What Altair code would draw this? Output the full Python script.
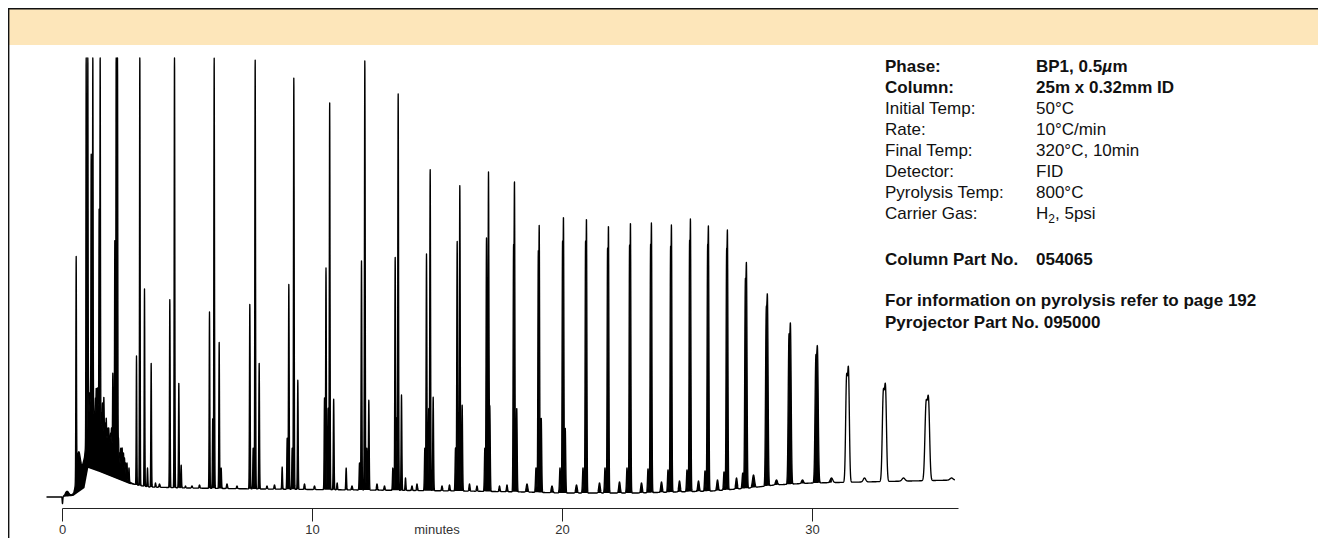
import altair as alt
import numpy as np
import pandas as pd

alt.data_transformers.disable_max_rows()

# ---------------- data ----------------
# x axis ticks (minutes)
tick_values = [0, 10, 20, 30]
axis_title = "minutes"

# baseline level of the detector signal (signal units above the axis line)
base_time = [-0.62, -0.05, 0.45, 0.90, 1.05, 1.50, 2.00, 2.30, 2.70, 3.50, 5.00, 8.00,
             12.0, 16.0, 18.5, 20.0, 23.0, 26.0, 27.5, 28.5, 30.0, 32.0, 35.8]
base_level = [11, 11, 12, 20, 40, 36, 31, 28, 24, 21, 20, 19,
              18, 17, 16, 15, 15, 17, 20, 23, 25, 26, 28]

# (retention time min, apex height, sigma min)
early_peaks = [
    (0.567, 252, 0.012), (0.967, 460, 0.010), (1.033, 460, 0.010), (1.100, 115, 0.010),
    (1.167, 355, 0.010), (1.233, 460, 0.011), (1.300, 95, 0.010), (1.340, 110, 0.010),
    (1.420, 120, 0.010), (1.485, 300, 0.010), (1.527, 460, 0.011), (1.673, 111, 0.011),
    (1.820, 75, 0.011), (1.927, 70, 0.011), (2.033, 135, 0.011), (2.113, 268, 0.011),
    (2.167, 460, 0.011), (2.220, 460, 0.011), (2.300, 55, 0.011), (2.407, 60, 0.012),
    (2.540, 45, 0.012), (2.767, 25, 0.015),
]
cluster_minor = [
    (1.06, 130, 0.010), (1.13, 110, 0.010), (1.20, 125, 0.010), (1.26, 115, 0.010),
    (1.37, 120, 0.010), (1.40, 100, 0.010), (1.45, 105, 0.010), (1.58, 95, 0.010),
    (1.62, 105, 0.010), (1.69, 90, 0.011), (1.72, 85, 0.011), (1.77, 90, 0.011),
    (1.84, 80, 0.011), (1.87, 80, 0.011), (1.95, 75, 0.011), (1.98, 80, 0.011),
    (2.02, 80, 0.011), (2.08, 85, 0.011), (2.26, 70, 0.011), (2.35, 60, 0.011),
    (2.38, 55, 0.011), (2.46, 55, 0.012), (2.50, 50, 0.012), (2.60, 45, 0.012),
    (2.68, 40, 0.012),
]
# unresolved hump under the early cluster: (time, amplitude, sigma)
cluster_humps = [(1.20, 50, 0.30), (1.90, 30, 0.35)]
mid_peaks = [
    (2.980, 152, 0.012), (3.113, 460, 0.012), (3.300, 219, 0.012), (3.420, 40, 0.013),
    (3.567, 145, 0.013), (3.740, 25, 0.015),
    (4.313, 209, 0.013), (4.500, 460, 0.013), (4.673, 125, 0.013), (4.767, 43, 0.013),
    (4.940, 22, 0.015),
    (5.900, 196, 0.013), (6.030, 90, 0.013), (6.087, 451, 0.013), (6.287, 166, 0.013),
    (6.367, 40, 0.014),
    (7.513, 204, 0.014), (7.647, 60, 0.014), (7.727, 449, 0.014), (7.887, 145, 0.014),
    (8.807, 41, 0.014),
    (9.007, 70, 0.014), (9.073, 224, 0.014), (9.207, 60, 0.014), (9.273, 431, 0.014),
    (9.433, 128, 0.014),
    (10.500, 110, 0.014), (10.560, 240, 0.014), (10.647, 100, 0.014), (10.707, 406, 0.014),
    (10.867, 109, 0.015), (11.007, 25, 0.015), (11.367, 40, 0.015),
    (11.900, 45, 0.015), (11.980, 247, 0.015), (12.113, 448, 0.015), (12.193, 60, 0.015),
    (12.273, 108, 0.015),
    (13.233, 40, 0.015), (13.327, 251, 0.015), (13.380, 90, 0.015), (13.447, 415, 0.015),
    (13.580, 113, 0.015), (13.740, 30, 0.016),
    (14.513, 60, 0.016), (14.580, 254, 0.016), (14.670, 100, 0.016), (14.727, 339, 0.016),
    (14.847, 111, 0.016),
    (15.740, 60, 0.016), (15.807, 267, 0.016), (15.913, 323, 0.016), (16.007, 103, 0.016),
    (16.913, 60, 0.017), (16.980, 270, 0.017), (17.060, 336, 0.017), (17.113, 102, 0.017),
    (18.060, 260, 0.016), (18.100, 326, 0.016), (18.190, 100, 0.017),
]
late_peaks = [
    (19.050, 255, 0.016), (19.090, 281, 0.016), (19.170, 90, 0.018),
    (20.020, 265, 0.016), (20.060, 290, 0.016), (20.130, 80, 0.018),
    (20.940, 265, 0.016), (20.980, 288, 0.016),
    (21.820, 258, 0.016), (21.860, 281, 0.016),
    (22.700, 261, 0.016), (22.740, 284, 0.016),
    (23.540, 259, 0.017), (23.580, 282, 0.017),
    (24.340, 257, 0.017), (24.380, 280, 0.017),
    (25.100, 263, 0.017), (25.140, 286, 0.017),
    (25.820, 255, 0.018), (25.860, 277, 0.018),
    (26.580, 251, 0.018), (26.620, 273, 0.018),
    (27.330, 224, 0.022), (27.380, 242, 0.022),
    (28.165, 195, 0.025), (28.220, 210, 0.025),
    (29.075, 171, 0.028), (29.140, 183, 0.028),
    (30.150, 150, 0.031), (30.220, 160, 0.031),
    (31.380, 132, 0.035), (31.460, 140, 0.035),
    (32.850, 117, 0.040), (32.940, 123, 0.040),
    (34.560, 106, 0.045), (34.660, 111, 0.045),
]
minor_peaks = [
    (3.90, 24, 0.02), (5.20, 22, 0.02), (5.50, 23, 0.02), (6.60, 24, 0.02), (7.00, 22, 0.02),
    (8.20, 22, 0.02), (8.50, 23, 0.02), (9.70, 24, 0.02), (10.10, 22, 0.02), (11.60, 22, 0.02),
    (12.60, 24, 0.02), (12.90, 22, 0.02), (14.00, 22, 0.02), (14.20, 24, 0.02), (15.20, 22, 0.02),
    (15.50, 23, 0.02), (16.30, 24, 0.02), (16.60, 22, 0.02), (17.50, 22, 0.02), (17.80, 23, 0.02),
    (18.96, 40, 0.02), (19.92, 40, 0.02), (20.84, 40, 0.02), (21.72, 40, 0.02), (22.60, 40, 0.02),
    (23.44, 39, 0.02), (24.24, 38, 0.02), (25.00, 38, 0.02), (25.72, 37, 0.02), (26.48, 36, 0.02),
    (27.23, 35, 0.025),
    (18.60, 24, 0.03), (19.60, 22, 0.03), (20.58, 23, 0.03), (21.50, 25, 0.03), (22.30, 26, 0.03),
    (23.18, 25, 0.03), (23.98, 26, 0.03), (24.70, 27, 0.03), (25.46, 27, 0.03), (26.22, 28, 0.03),
    (26.98, 30, 0.03), (27.66, 33, 0.04), (28.58, 28, 0.04), (29.62, 28, 0.04), (30.78, 30, 0.05),
    (32.10, 30, 0.05), (33.66, 30, 0.06), (35.58, 30, 0.06),
]
# injection events: (time, amplitude, sigma)
detector_events = [(0.02, -7, 0.012), (0.20, 5, 0.07), (0.66, 30, 0.07)]

# info panel text
info_labels = ["Phase:", "Column:", "Initial Temp:", "Rate:", "Final Temp:",
               "Detector:", "Pyrolysis Temp:", "Carrier Gas:"]
info_values = [None, "25m x 0.32mm ID", "50°C", "10°C/min", "320°C, 10min",
               "FID", "800°C", None]
info_bold = [True, True, False, False, False, False, False, False]
phase_value_parts = ["BP1, 0.5", "µ", "m"]
carrier_value_parts = ["H", "2", ", 5psi"]
part_label, part_value = "Column Part No.", "054065"
footer_lines = ["For information on pyrolysis refer to page 192",
                "Pyrojector Part No. 095000"]

# ---------------- build trace ----------------
def gauss_sum(x, items):
    out = np.zeros_like(x, dtype=float)
    for c, a, s in items:
        out += a * np.exp(-0.5 * ((x - c) / s) ** 2)
    return out


events = detector_events + cluster_humps
peaks = np.array(early_peaks + cluster_minor + mid_peaks + late_peaks + minor_peaks)
tp, hp, sp = peaks[:, 0], peaks[:, 1], peaks[:, 2]
floor_tp = np.interp(tp, base_time, base_level) + gauss_sum(tp, events)
# amplitudes so that the drawn apexes meet the read apex heights
M = np.exp(-0.5 * ((tp[:, None] - tp[None, :]) / sp[None, :]) ** 2)
amp = hp - floor_tp
for _ in range(30):
    total = floor_tp + M @ amp
    amp = np.maximum(amp + 0.6 * (hp - total), 0.0)

t = np.round(np.arange(-0.62, 35.72, 0.004), 4)
base = np.interp(t, base_time, base_level).astype(float)
sig = base + gauss_sum(t, events)
for a, c, s in zip(amp, tp, sp):
    lo, hi = np.searchsorted(t, [c - 7 * s, c + 7 * s])
    sig[lo:hi] += a * np.exp(-0.5 * ((t[lo:hi] - c) / s) ** 2)
sig = np.minimum(sig, 450.0)
df = pd.DataFrame({"t": t, "v": np.round(sig, 2), "b": np.round(base, 2)})
df_fill = df[df["t"] < 30.8]

# ---------------- chart ----------------
W, H = 896, 450
FONT = "Liberation Sans"
x_scale = alt.Scale(domain=[0, 35.84], nice=False, zero=False)
y_scale = alt.Scale(domain=[0, 450], nice=False, zero=False)
one = pd.DataFrame({"k": [0]})

band = alt.Chart(one).mark_rect(color="#fde6ba").encode(
    x=alt.value(-53), x2=alt.value(1264), y=alt.value(-49), y2=alt.value(-13))
border_top = alt.Chart(one).mark_rule(color="#111", strokeWidth=1.4).encode(
    x=alt.value(-54), x2=alt.value(1264), y=alt.value(-49.3))
border_left = alt.Chart(one).mark_rule(color="#111", strokeWidth=1.4).encode(
    x=alt.value(-53.3), y=alt.value(-50), y2=alt.value(488))

fill = alt.Chart(df_fill).mark_area(color="#000", clip=False, opacity=1).encode(
    x=alt.X("t:Q", scale=x_scale),
    y=alt.Y("v:Q", scale=y_scale, axis=None),
    y2="b:Q",
)

trace = alt.Chart(df).mark_line(color="#000", strokeWidth=1.35, clip=False,
                                strokeJoin="round").encode(
    x=alt.X("t:Q", scale=x_scale,
            axis=alt.Axis(values=tick_values, format="d", title=None, grid=False,
                          domainColor="#222", domainWidth=1, tickColor="#222",
                          tickWidth=1, tickSize=13, labelFont=FONT, labelFontSize=13,
                          labelColor="#333", labelPadding=2, labelFlush=False)),
    y=alt.Y("v:Q", scale=y_scale, axis=None),
)

minutes = alt.Chart(pd.DataFrame({"t": [15], "s": [axis_title]})).mark_text(
    font=FONT, fontSize=13, color="#333", baseline="top", align="center").encode(
    x=alt.X("t:Q", scale=x_scale), y=alt.value(H + 15.5), text="s:N")


def txt(s, x, y, size=17, weight="normal", style="normal"):
    return alt.Chart(pd.DataFrame({"s": [s]})).mark_text(
        align="left", baseline="alphabetic", font=FONT, fontSize=size,
        fontWeight=weight, fontStyle=style, color="#111").encode(
        x=alt.value(x), y=alt.value(y), text="s:N")


LX, VX = 823, 974
texts = []
for i, lab in enumerate(info_labels):
    yy = 13.7 + 21 * i
    w = "bold" if info_bold[i] else "normal"
    texts.append(txt(lab, LX, yy, weight=w))
    if info_values[i] is not None:
        texts.append(txt(info_values[i], VX, yy, weight=w))
# Phase value with italic mu
texts.append(txt(phase_value_parts[0], VX, 13.7, weight="bold"))
texts.append(txt(phase_value_parts[1], VX + 66.2, 13.7, weight="bold", style="italic"))
texts.append(txt(phase_value_parts[2], VX + 76.6, 13.7, weight="bold"))
# Carrier gas with subscript
cy = 13.7 + 21 * 7
texts.append(txt(carrier_value_parts[0], VX, cy))
texts.append(txt(carrier_value_parts[1], VX + 12.3, cy + 4, size=12))
texts.append(txt(carrier_value_parts[2], VX + 19.0, cy))
texts.append(txt(part_label, LX, 206.5, weight="bold"))
texts.append(txt(part_value, VX, 206.5, weight="bold"))
texts.append(txt(footer_lines[0], LX, 248, weight="bold"))
texts.append(txt(footer_lines[1], LX, 269.5, weight="bold"))

chart = alt.layer(band, border_top, border_left, fill, trace, minutes, *texts).properties(
    width=W, height=H,
    padding={"left": 54, "top": 50, "right": 360, "bottom": 30},
    autosize=alt.AutoSizeParams(type="none"),
).configure_view(stroke=None)

chart.save("out.html", embed_options={"renderer": "svg", "actions": False})
